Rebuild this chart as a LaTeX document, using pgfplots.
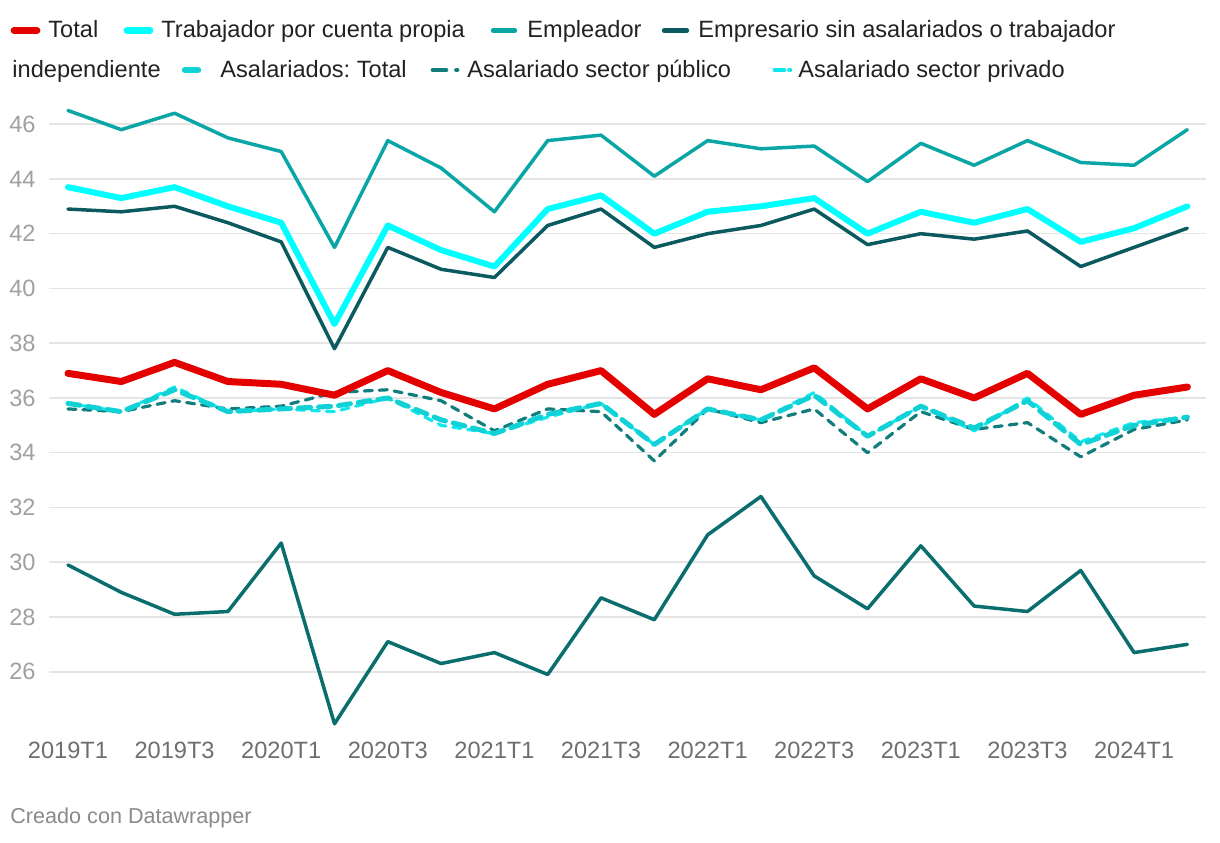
\documentclass[border=0pt]{standalone}
\usepackage{pgfplots}
\pgfplotsset{compat=1.18}
\usepackage{pgfplotstable}
\usepackage{fontspec}
\setmainfont{Liberation Sans}
\frenchspacing
\definecolor{cTot}{HTML}{E50000}
\definecolor{cProp}{HTML}{00FFFF}
\definecolor{cEmpl}{HTML}{0AA6A6}
\definecolor{cEmpr}{HTML}{0B5A5F}
\definecolor{cAsal}{HTML}{10D2D6}
\definecolor{cPub}{HTML}{127D7D}
\definecolor{cPriv}{HTML}{10E8EE}
\definecolor{cOtro}{HTML}{0A6E6E}
\definecolor{gridc}{HTML}{E5E5E5}
\definecolor{xlab}{HTML}{6E6E6E}
\definecolor{ylab}{HTML}{A0A0A0}
\definecolor{legt}{HTML}{222222}
\definecolor{foot}{HTML}{8A8A8A}
\newcommand\lf{\fontsize{11.8pt}{14pt}\selectfont}
\pgfplotstableread{
x tot prop empl empr asal pub priv otro
0 36.9 43.7 46.5 42.9 35.8 35.6 35.8 29.9
1 36.6 43.3 45.8 42.8 35.5 35.5 35.5 28.9
2 37.3 43.7 46.4 43.0 36.3 35.9 36.4 28.1
3 36.6 43.0 45.5 42.4 35.5 35.6 35.5 28.2
4 36.5 42.4 45.0 41.7 35.6 35.7 35.6 30.7
5 36.1 38.7 41.5 37.8 35.7 36.2 35.5 24.1
6 37.0 42.3 45.4 41.5 36.0 36.3 36.0 27.1
7 36.2 41.4 44.4 40.7 35.2 35.9 35.0 26.3
8 35.6 40.8 42.8 40.4 34.7 34.8 34.7 26.7
9 36.5 42.9 45.4 42.3 35.4 35.6 35.3 25.9
10 37.0 43.4 45.6 42.9 35.8 35.5 35.8 28.7
11 35.4 42.0 44.1 41.5 34.3 33.7 34.3 27.9
12 36.7 42.8 45.4 42.0 35.6 35.6 35.6 31.0
13 36.3 43.0 45.1 42.3 35.2 35.1 35.2 32.4
14 37.1 43.3 45.2 42.9 36.1 35.6 36.2 29.5
15 35.6 42.0 43.9 41.6 34.6 34.0 34.6 28.3
16 36.7 42.8 45.3 42.0 35.7 35.5 35.7 30.6
17 36.0 42.4 44.5 41.8 34.9 34.85 34.8 28.4
18 36.9 42.9 45.4 42.1 35.9 35.1 36.0 28.2
19 35.4 41.7 44.6 40.8 34.3 33.85 34.4 29.7
20 36.1 42.2 44.5 41.5 35.0 34.85 35.1 26.7
21 36.4 43.0 45.8 42.2 35.3 35.2 35.3 27.0
}\datatable
\begin{document}
\begin{tikzpicture}
\begin{scope}[shift={(-24.5pt,367.5pt)}, x=0.5pt, y=-0.5pt]
\useasboundingbox (0,0) rectangle (1220,842);
\end{scope}
\begin{axis}[at={(0,0)}, anchor=south west, scale only axis,
  width=578.5pt, height=316.5pt,
  xmin=-0.356, xmax=21.35, ymin=23.69, ymax=46.81,
  axis line style={draw=none}, major tick length=0pt, tick style={draw=none},
  ytick={26,28,...,46}, ymajorgrids, grid style={color=gridc, line width=0.75pt},
  xtick={0,2,...,20},
  xticklabels={2019T1,2019T3,2020T1,2020T3,2021T1,2021T3,2022T1,2022T3,2023T1,2023T3,2024T1},
  xticklabel style={font=\lf, text=xlab, anchor=center, inner sep=0pt, yshift=-7.5pt},
  yticklabel style={font=\lf, text=ylab, anchor=east, inner sep=0pt, xshift=-6.5pt},
  /pgf/number format/assume math mode=true,
  clip=false,
  every axis plot/.append style={line join=round, line cap=round},
]
\addplot[color=cOtro, line width=1.75pt] table[x=x, y=otro] {\datatable};
\addplot[color=cEmpl, line width=1.75pt] table[x=x, y=empl] {\datatable};
\addplot[color=cEmpr, line width=1.75pt] table[x=x, y=empr] {\datatable};
\addplot[color=cProp, line width=3pt] table[x=x, y=prop] {\datatable};
\addplot[color=cPub, line width=1.6pt, dash pattern=on 4pt off 3.5pt] table[x=x, y=pub] {\datatable};
\addplot[color=cPriv, line width=1.6pt, dash pattern=on 4pt off 3.5pt] table[x=x, y=priv] {\datatable};
\addplot[color=cAsal, line width=2.5pt, dash pattern=on 6pt off 4pt] table[x=x, y=asal] {\datatable};
\addplot[color=cTot, line width=3.5pt] table[x=x, y=tot] {\datatable};
\end{axis}
\begin{scope}[shift={(-24.5pt,367.5pt)}, x=0.5pt, y=-0.5pt, line cap=round]
% legend row 1
\draw[cTot, line width=3.4pt] (14,30.5) -- (37,30.5);
\node[anchor=base west, inner sep=0pt, text=legt, font=\lf] at (48,37.5) {Total};
\draw[cProp, line width=3.4pt] (127,30.5) -- (150,30.5);
\node[anchor=base west, inner sep=0pt, text=legt, font=\lf] at (161,37.5) {Trabajador por cuenta propia};
\draw[cEmpl, line width=2.2pt] (493,30.5) -- (515,30.5);
\node[anchor=base west, inner sep=0pt, text=legt, font=\lf] at (527,37.5) {Empleador};
\draw[cEmpr, line width=2.2pt] (664,30.5) -- (687,30.5);
\node[anchor=base west, inner sep=0pt, text=legt, font=\lf] at (698,37.5) {Empresario sin asalariados o trabajador};
% legend row 2
\node[anchor=base west, inner sep=0pt, text=legt, font=\lf] at (12,78) {independiente};
\draw[cAsal, line width=3.2pt] (185,70) -- (198,70);
\node[anchor=base west, inner sep=0pt, text=legt, font=\lf] at (220,78) {Asalariados: Total};
\draw[cPub, line width=2.4pt] (433,70) -- (446,70);
\draw[cPub, line width=2.4pt] (456.5,70) -- (457,70);
\node[anchor=base west, inner sep=0pt, text=legt, font=\lf] at (467,78) {Asalariado sector público};
\draw[cPriv, line width=2.4pt] (775,70) -- (784,70);
\draw[cPriv, line width=2.4pt] (789.5,70) -- (790,70);
\node[anchor=base west, inner sep=0pt, text=legt, font=\lf] at (798,78) {Asalariado sector privado};
% footer
\node[anchor=base west, inner sep=0pt, text=foot, font=\fontsize{10.8pt}{13pt}\selectfont] at (10,823) {Creado con Datawrapper};
\end{scope}
\end{tikzpicture}
\end{document}
